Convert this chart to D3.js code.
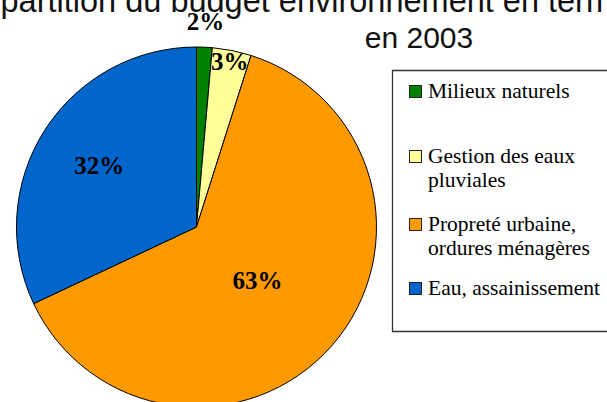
<!DOCTYPE html>
<html>
<head>
    <meta charset="utf-8">
    <title>Budget environnement 2003</title>
    <script src="https://cdn.jsdelivr.net/npm/d3@7/dist/d3.min.js"></script>
    <style>
        body { margin: 0; background: #fff; overflow: hidden; }
        svg { display: block; overflow: hidden; }
    </style>
</head>
<body>
    <svg width="607" height="402" id="mainsvg"></svg>
    <script>
        // data (percent of the budget)
        const categories = ['Milieux naturels', 'Gestion des eaux pluviales', 'Propreté urbaine, ordures ménagères', 'Eau, assainissement'];
        const values = [1.4, 3.5, 63.1, 32.0];
        const pctLabels = ['2%', '3%', '63%', '32%'];
        const legendLines = [['Milieux naturels'], ['Gestion des eaux', 'pluviales'], ['Propreté urbaine,', 'ordures ménagères'], ['Eau, assainissement']];
        const titleLines = ['Répartition du budget environnement en termes de fonctionnement', 'en 2003'];

        const colors = ['#008000', '#FFFF99', '#FF9900', '#0066CC'];

        const svg = d3.select('svg');
        const width = +svg.attr('width');
        const height = +svg.attr('height');

        // title, first line is wider than the picture and gets cut on both sides
        svg.append('text')
            .attr('x', -41)
            .attr('y', 12)
            .attr('font-family', '"Liberation Sans", Arial, sans-serif')
            .attr('font-size', 32.5)
            .attr('fill', '#111')
            .text(titleLines[0]);
        svg.append('text')
            .attr('x', 419)
            .attr('y', 48)
            .attr('text-anchor', 'middle')
            .attr('font-family', '"Liberation Sans", Arial, sans-serif')
            .attr('font-size', 30)
            .attr('fill', '#111')
            .text(titleLines[1]);

        // pie
        const cx = 196.5, cy = 227, R = 180;
        const pie = d3.pie().sort(null).value(d => d);
        const arcs = pie(values);
        const arc = d3.arc().innerRadius(0).outerRadius(R);

        const g = svg.append('g').attr('transform', `translate(${cx},${cy})`);
        g.selectAll('.slice').data(arcs).join('path')
            .attr('class', 'slice')
            .attr('d', arc)
            .attr('fill', (d, i) => colors[i])
            .attr('stroke', '#000')
            .attr('stroke-width', 1)
            .attr('stroke-linejoin', 'round');

        // label radius as a fraction of R (small slices pushed outwards like excel does)
        const labelK = [1.145, 0.94, 0.45, 0.64];
        g.selectAll('.pct').data(arcs).join('text')
            .attr('class', 'pct')
            .attr('transform', (d, i) => {
                const a = d3.arc().innerRadius(R * labelK[i]).outerRadius(R * labelK[i]);
                return `translate(${a.centroid(d)})`;
            })
            .attr('dy', '0.35em')
            .attr('text-anchor', 'middle')
            .attr('font-family', '"Liberation Serif", "Times New Roman", serif')
            .attr('font-weight', 'bold')
            .attr('font-size', 25)
            .attr('fill', '#000')
            .text((d, i) => pctLabels[i]);

        // legend, its right side runs off the picture
        const legend = svg.append('g');
        legend.append('path')
            .attr('d', 'M620,70.5 H392.5 V331.5 H620')
            .attr('fill', '#fff')
            .attr('stroke', '#333')
            .attr('stroke-width', 1.3);

        // spacing in the reference is not even, baselines read from it
        const baselines = [98, 163, 231, 295];
        const items = legend.selectAll('.item').data(categories).join('g')
            .attr('class', 'item')
            .attr('transform', (d, i) => `translate(0,${baselines[i]})`);

        items.append('rect')
            .attr('x', 409.5).attr('y', -12.5)
            .attr('width', 12).attr('height', 12)
            .attr('fill', (d, i) => colors[i])
            .attr('stroke', '#222')
            .attr('stroke-width', 1);

        items.each(function (d, i) {
            d3.select(this).selectAll('text').data(legendLines[i]).join('text')
                .attr('x', 428)
                .attr('y', (t, j) => j * 24)
                .attr('font-family', '"Liberation Serif", "Times New Roman", serif')
                .attr('font-size', 21.5)
                .attr('fill', '#000')
                .text(t => t);
        });
    </script>
</body>
</html>
